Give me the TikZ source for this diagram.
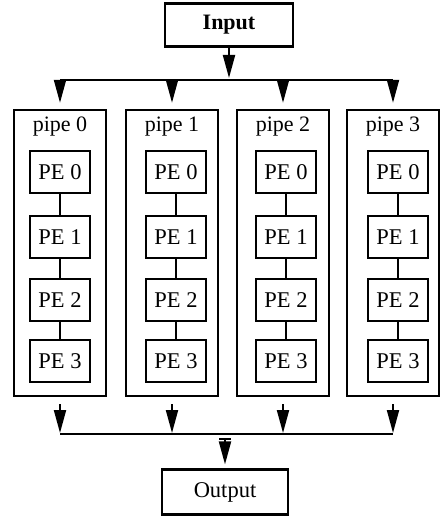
\documentclass[tikz,border=0pt]{standalone}
\usepackage{fontspec}
\setmainfont{Liberation Serif}
\usetikzlibrary{arrows.meta}
\begin{document}
\begin{tikzpicture}[x=1pt,y=-1pt,
  box/.style={draw,line width=2.2pt,inner sep=0pt,font=\fontsize{22.5}{26}\selectfont},
  pebox/.style={box,minimum width=60pt,minimum height=42pt},
  pipebox/.style={draw,line width=2.4pt,minimum width=92pt,minimum height=286pt,inner sep=0pt},
  link/.style={line width=2pt},
  arr/.style={line width=2pt,-{Triangle[width=12pt,length=23pt]}},
  lbl/.style={font=\fontsize{22}{26}\selectfont,inner sep=0pt}]
\useasboundingbox (0,0) rectangle (444,519);
\node[box,minimum width=128pt,minimum height=43pt,font=\fontsize{22}{26}\selectfont\bfseries] (in) at (229,25) {Input};
\node[box,minimum width=126pt,minimum height=45pt] (out) at (225,492) {Output};
\coordinate (ti) at (229,80);
\coordinate (bo) at (225,434);
\foreach \i/\x/\px in {0/60/60,1/172/176,2/283/286,3/393/398}{
  \node[pipebox] (p\i) at (\x,253) {};
  \node[lbl] (pl\i) at (\x,127) {pipe \i};
  \coordinate (t\i) at (\x,80);
  \coordinate (b\i) at (\x,434);
  \foreach \j/\y in {0/172,1/237,2/300,3/361}{
    \node[pebox] (pe\i\j) at (\px,\y) {PE \j};
  }
  \draw[link] (pe\i0) -- (pe\i1);
  \draw[link] (pe\i1) -- (pe\i2);
  \draw[link] (pe\i2) -- (pe\i3);
  \draw[arr,shorten >=6pt] (t\i) -- (p\i.north);
  \draw[arr,shorten <=7pt,shorten >=1pt] (p\i.south) -- (b\i);
}
\draw[link] (t0) -- (t3);
\draw[link] (b0) -- (b3);
\draw[arr,shorten >=2pt] (in.south) -- (ti);
\draw[arr,shorten <=6pt,shorten >=4pt] (bo) -- (out.north);
\coordinate (tk) at (225,439);
\draw[link] ([xshift=-6pt]tk) -- ([xshift=6pt]tk);
\end{tikzpicture}
\end{document}
